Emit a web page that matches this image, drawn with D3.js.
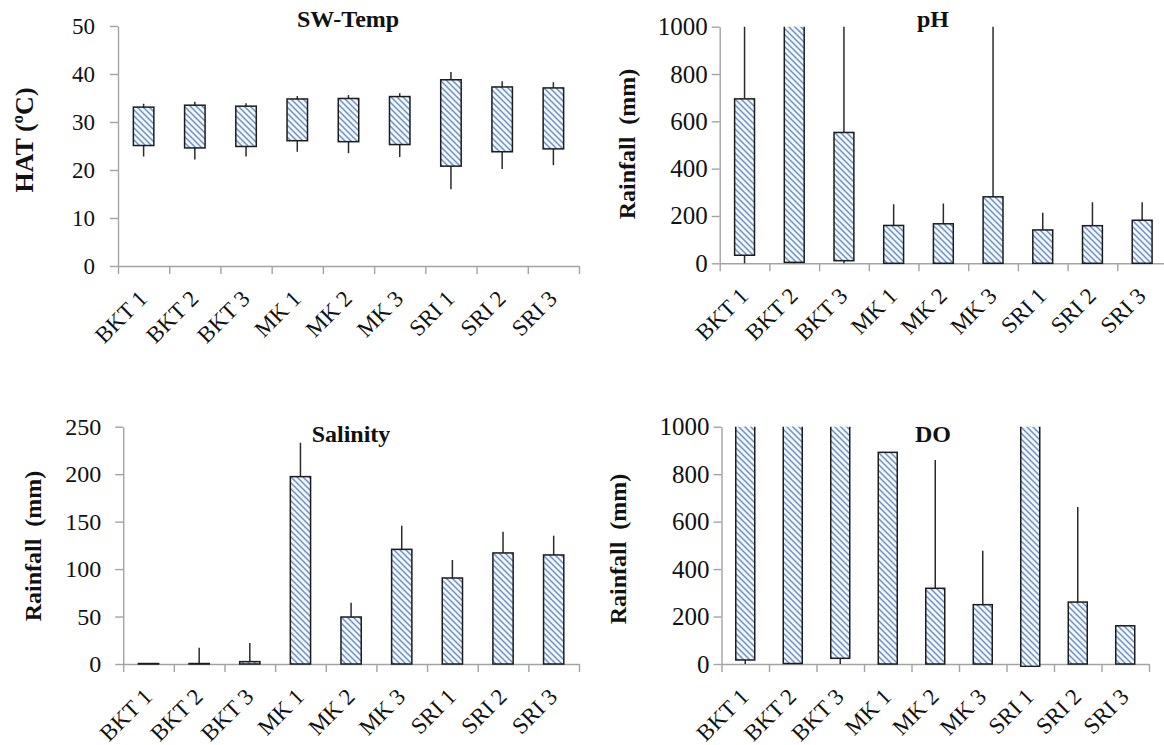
<!DOCTYPE html>
<html><head><meta charset="utf-8">
<script src="https://cdn.jsdelivr.net/npm/d3@7"></script>
<style>
body{margin:0;background:#fff;}
svg{display:block;}
svg text{font-family:"Liberation Serif","Times New Roman",Times,"DejaVu Serif",serif !important;}
</style>
</head><body>
<svg id="c" width="1164" height="745"></svg>
<script>
// ---------- data ----------
const categories = ["BKT 1","BKT 2","BKT 3","MK 1","MK 2","MK 3","SRI 1","SRI 2","SRI 3"];

const tempTicks   = [0,10,20,30,40,50];
const tempBarLow  = [25.1, 24.6, 24.9, 26.1, 25.9, 25.3, 20.8, 23.8, 24.4];
const tempBarHigh = [33.1, 33.5, 33.3, 34.8, 34.9, 35.3, 38.8, 37.3, 37.1];
const tempLow     = [22.8, 22.2, 22.8, 23.8, 23.5, 22.7, 16.0, 20.2, 21.0];
const tempHigh    = [33.8, 34.2, 33.9, 35.4, 35.6, 36.0, 40.4, 38.5, 38.3];

const phTicks   = [0,200,400,600,800,1000];
const phBarLow  = [34, 4, 11, 0, 0, 0, 0, 0, 0];
const phBarHigh = [695, 1100, 553, 160, 167, 281, 141, 159, 182];
const phLow     = [0, 0, 0, 0, 0, 0, 0, 0, 0];
const phHigh    = [1100, 1100, 1100, 250, 253, 1100, 214, 258, 258];

const salTicks   = [0,50,100,150,200,250];
const salBarLow  = [0, 0, 0, 0, 0, 0, 0, 0, 0];
const salBarHigh = [0.5, 0.5, 2.5, 197.4, 49.5, 120.8, 90.6, 117, 114.9];
const salLow     = [0, 0, 0, 0, 0, 0, 0, 0, 0];
const salHigh    = [0.5, 17, 22, 233, 64.6, 145.7, 109.6, 139.4, 135.2];

const doTicks   = [0,200,400,600,800,1000];
const doBarLow  = [17, 2, 24, 0, 0, 0, -10, 0, 0];
const doBarHigh = [1100, 1100, 1100, 892, 319, 250, 1100, 261, 161];
const doLow     = [0, 0, 0, 0, 0, 0, -10, 0, 0];
const doHigh    = [1100, 1100, 1100, 892, 860, 477, 1100, 662, 161];

// ---------- layout ----------
const panels = [
  {title:"SW-Temp", ylabel:"HAT (ºC)", ticks:tempTicks, max:50,
   barLow:tempBarLow, barHigh:tempBarHigh, low:tempLow, high:tempHigh,
   left:118, right:579, top:26, bottom:266, tickFont:23, tickGap:23,
   titleX:348, titleY:27, ylabX:24, ylabY:140, ylabFont:26},
  {title:"pH", ylabel:"Rainfall  (mm)", ticks:phTicks, max:1000,
   barLow:phBarLow, barHigh:phBarHigh, low:phLow, high:phHigh,
   left:719.7, right:1167, top:26.7, bottom:263.3, tickFont:25, tickGap:12,
   titleX:933, titleY:27, ylabX:627, ylabY:144, ylabFont:24},
  {title:"Salinity", ylabel:"Rainfall  (mm)", ticks:salTicks, max:250,
   barLow:salBarLow, barHigh:salBarHigh, low:salLow, high:salHigh,
   left:123.2, right:579, top:426.7, bottom:664, tickFont:24, tickGap:22,
   titleX:351, titleY:442, ylabX:33, ylabY:546, ylabFont:24},
  {title:"DO", ylabel:"Rainfall  (mm)", ticks:doTicks, max:1000,
   barLow:doBarLow, barHigh:doBarHigh, low:doLow, high:doHigh,
   left:721.5, right:1149, top:426.7, bottom:664, tickFont:25, tickGap:12,
   titleX:933, titleY:442, ylabX:618, ylabY:549, ylabFont:24}
];

const FONT = "'Liberation Serif', 'Times New Roman', Times, 'DejaVu Serif', serif";
const svg = d3.select("#c");
const defs = svg.append("defs");
const pat = defs.append("pattern").attr("id","hatch")
  .attr("patternUnits","userSpaceOnUse").attr("width",6).attr("height",6);
pat.append("rect").attr("width",6).attr("height",6).attr("fill","#f2f6fb");
pat.append("path").attr("d","M-1,-1 L7,7 M-1,5 L1,7 M5,-1 L7,1")
  .attr("stroke","#6a94c6").attr("stroke-width",1.5);

const AX = "#a3a3a3";

panels.forEach((p, pi) => {
  const x = d3.scaleBand().domain(categories).range([p.left, p.right]).padding(0);
  const y = d3.scaleLinear().domain([0, p.max]).range([p.bottom, p.top]);
  const bw = x.bandwidth() * 0.4;
  const g = svg.append("g").attr("font-family", FONT);

  defs.append("clipPath").attr("id","clip"+pi).append("rect")
    .attr("x", p.left).attr("y", p.top).attr("width", p.right - p.left).attr("height", p.bottom - p.top + 3);

  const rows = categories.map((c,i) => ({c, bl:p.barLow[i], bh:p.barHigh[i], lo:p.low[i], hi:p.high[i]}));

  // y axis
  const ya = g.append("g").attr("transform",`translate(${p.left},0)`)
    .call(d3.axisLeft(y).tickValues(p.ticks).tickSize(8).tickSizeOuter(0).tickPadding(p.tickGap-8).tickFormat(d3.format("d")));
  ya.attr("font-family", FONT);
  ya.select(".domain").attr("stroke",AX).attr("stroke-width",1.4);
  ya.selectAll(".tick line").attr("stroke",AX).attr("stroke-width",1.4);
  ya.selectAll(".tick text").attr("font-size",p.tickFont).attr("fill","#111");

  // x axis (band boundaries)
  const xe = d3.scaleLinear().domain([0, categories.length]).range([p.left, p.right]);
  const xa = g.append("g").attr("transform",`translate(0,${p.bottom})`)
    .call(d3.axisBottom(xe).tickValues(d3.range(categories.length+1)).tickSize(8).tickSizeOuter(0).tickFormat(""));
  xa.select(".domain").attr("stroke",AX).attr("stroke-width",1.4);
  xa.selectAll(".tick line").attr("stroke",AX).attr("stroke-width",1.4);

  // category labels
  g.append("g").selectAll("text").data(categories).join("text")
    .attr("transform", d => `translate(${x(d)+x.bandwidth()/2+5},${p.bottom+34}) rotate(-45)`)
    .attr("text-anchor","end").attr("font-size",23).attr("fill","#111").text(d => d);

  // marks
  const m = g.append("g").attr("clip-path",`url(#clip${pi})`);
  m.selectAll("line.w").data(rows).join("line").attr("class","w")
    .attr("x1", d => x(d.c)+x.bandwidth()/2).attr("x2", d => x(d.c)+x.bandwidth()/2)
    .attr("y1", d => y(d.lo)).attr("y2", d => y(d.hi))
    .attr("stroke","#2b2b2b").attr("stroke-width",1.5);
  m.selectAll("rect.b").data(rows).join("rect").attr("class","b")
    .attr("x", d => x(d.c)+x.bandwidth()/2-bw/2).attr("width", bw)
    .attr("y", d => y(d.bh)).attr("height", d => Math.max(0.5, y(d.bl)-y(d.bh)))
    .attr("fill","url(#hatch)").attr("stroke","#1c1c1c").attr("stroke-width",1.5);

  // title
  g.append("text").attr("x",p.titleX).attr("y",p.titleY).attr("text-anchor","middle")
    .attr("font-size",24).attr("font-weight","bold").attr("fill","#111").text(p.title);

  // y label
  g.append("text").attr("transform",`translate(${p.ylabX},${p.ylabY}) rotate(-90)`)
    .attr("text-anchor","middle").attr("dominant-baseline","central")
    .attr("font-size",p.ylabFont).attr("font-weight","bold").attr("fill","#111")
    .style("white-space","pre").text(p.ylabel);
});
</script>
</body></html>
